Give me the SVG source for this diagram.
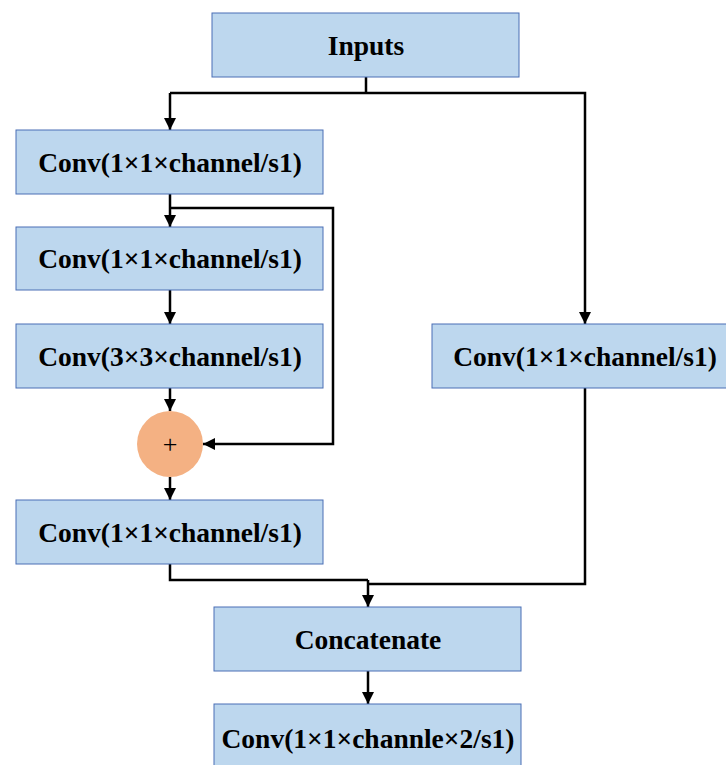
<svg xmlns="http://www.w3.org/2000/svg" width="726" height="765" viewBox="0 0 726 765">
  <defs>
    <marker id="arrow" viewBox="0 0 10 10" refX="10" refY="5" markerWidth="12" markerHeight="12" markerUnits="userSpaceOnUse" orient="auto">
      <path d="M0,0 L10,5 L0,10 z" fill="#000"/>
    </marker>
    <style>
      .box { fill: #BDD7EE; stroke: #4A6FB5; stroke-width: 1; }
      .label { font-weight: 700; font-size: 27.5px; fill: #000; text-anchor: middle; dominant-baseline: central; }
      .wire { fill: none; stroke: #000; stroke-width: 2.5; }
      .arr { marker-end: url(#arrow); }
    </style>
  </defs>
  <rect width="726" height="765" fill="#fff"/>

  <!-- connectors -->
  <g id="connectors">
    <path class="wire" d="M366,77 V93"/>
    <path class="wire arr" d="M170,93 H585 V324"/>
    <path class="wire arr" d="M170,93 V130"/>
    <path class="wire arr" d="M170,194 V227"/>
    <path class="wire arr" d="M170,208 H333 V444 H203"/>
    <path class="wire arr" d="M170,290 V324"/>
    <path class="wire arr" d="M170,388 V411"/>
    <path class="wire arr" d="M170,477 V500"/>
    <path class="wire" d="M170,564 V580 H368"/>
    <path class="wire" d="M585,388 V584 H368"/>
    <path class="wire arr" d="M368,580 V607"/>
    <path class="wire arr" d="M368,671 V704"/>
  </g>

  <g font-family="Times New Roman, Liberation Serif, Tinos, Noto Serif, DejaVu Serif, serif">
    <g id="inputs">
      <rect class="box" x="212" y="13" width="307" height="64"/>
      <text class="label" x="366" y="45">Inputs</text>
    </g>
    <g id="conv1">
      <rect class="box" x="16" y="130" width="307" height="64"/>
      <text class="label" x="170" y="162">Conv(1×1×channel/s1)</text>
    </g>
    <g id="conv2">
      <rect class="box" x="16" y="227" width="307" height="63"/>
      <text class="label" x="170" y="258">Conv(1×1×channel/s1)</text>
    </g>
    <g id="conv3">
      <rect class="box" x="16" y="324" width="307" height="64"/>
      <text class="label" x="170" y="356">Conv(3×3×channel/s1)</text>
    </g>
    <g id="add">
      <circle cx="170" cy="444" r="33" fill="#F4B183"/>
      <text x="170" y="444" font-size="26" text-anchor="middle" dominant-baseline="central">+</text>
    </g>
    <g id="conv4">
      <rect class="box" x="16" y="500" width="307" height="64"/>
      <text class="label" x="170" y="532">Conv(1×1×channel/s1)</text>
    </g>
    <g id="conv-side">
      <rect class="box" x="432" y="324" width="307" height="64"/>
      <text class="label" x="585" y="356">Conv(1×1×channel/s1)</text>
    </g>
    <g id="concat">
      <rect class="box" x="214" y="607" width="307" height="64"/>
      <text class="label" x="368" y="639">Concatenate</text>
    </g>
    <g id="conv-out">
      <rect class="box" x="214" y="704" width="307" height="70"/>
      <text class="label" x="368" y="738">Conv(1×1×channle×2/s1)</text>
    </g>
  </g>
</svg>
